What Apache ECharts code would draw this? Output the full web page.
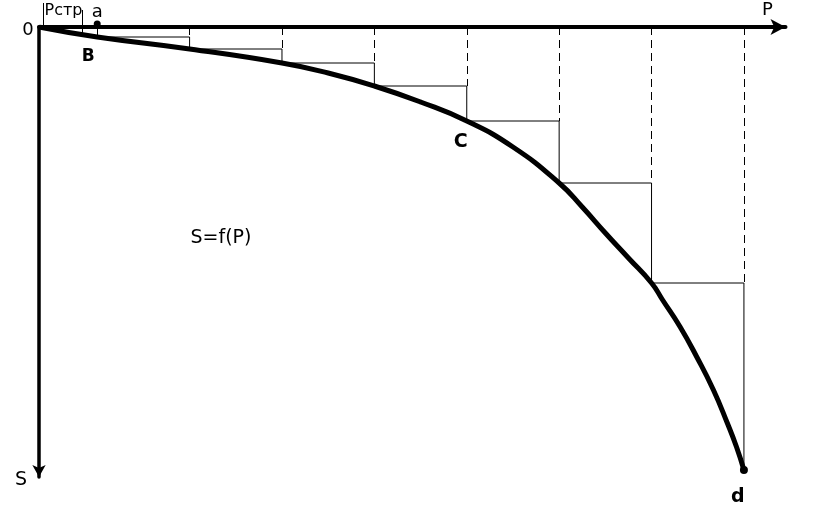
<!DOCTYPE html>
<html><head><meta charset="utf-8">
<script src="https://cdn.jsdelivr.net/npm/echarts@6/dist/echarts.min.js"></script>
<style>html,body{margin:0;padding:0;background:#fff}#c{width:813px;height:518px}</style>
</head><body><div id="c"></div>
<script>
// Load steps P (one load step = 1 unit) and settlement S at each step
const loadP = [0, 0.63, 1.63, 2.63, 3.63, 4.63, 5.63, 6.63, 7.63];
const settleS = [0, 1.0, 2.2, 3.6, 5.9, 9.4, 15.6, 25.6, 44.3];
// S = f(P) curve
const curveP = [0, 0.63, 1.63, 2.63, 3.13, 3.63, 4.13, 4.63, 5.13, 5.63, 5.88, 6.13, 6.38, 6.63,
  6.75, 6.94, 7.12, 7.30, 7.45, 7.55, 7.63];
const curveS = [0, 1.0, 2.2, 3.6, 4.6, 5.9, 7.5, 9.4, 12.0, 15.6, 18.0, 20.6, 23.1, 25.6,
  27.3, 30.0, 33.0, 36.3, 39.6, 42.0, 44.3];
const pStr = 0.465;          // Pстр
const pStrStart = 0.043;     // left mark of Pстр bracket
const xMax = 8.08;
const yMax = 45;

const FONT = 'DejaVu Sans';
const stepPts = loadP.map((p, i) => [p, settleS[i]]);
const curve = curveP.map((p, i) => [p, curveS[i]]);
const steps = stepPts.slice(1);

const dashed = [];
for (let i = 2; i < loadP.length; i++) {
  dashed.push([{coord: [loadP[i], 0]}, {coord: [loadP[i], settleS[i - 1]]}]);
}
const solidA = [[{coord: [loadP[1], 0]}, {coord: [loadP[1], settleS[1]]}]];

const chart = echarts.init(document.getElementById('c'), null, {renderer: 'canvas'});
const axisCommon = {
  axisTick: {show: false}, axisLabel: {show: false}, splitLine: {show: false}
};
chart.setOption({
  animation: false,
  backgroundColor: '#fff',
  grid: {left: 39, right: 27.5, top: 27, bottom: 41},
  xAxis: Object.assign({
    type: 'value', min: 0, max: xMax, position: 'top',
    axisLine: {show: true, onZero: true, symbol: ['none', 'arrow'], symbolSize: [12, 15],
      lineStyle: {color: '#000', width: 4}}
  }, axisCommon),
  yAxis: Object.assign({
    type: 'value', min: 0, max: yMax, inverse: true,
    axisLine: {show: true, onZero: true, symbol: ['arrow', 'none'], symbolSize: [10, 12],
      lineStyle: {color: '#000', width: 3.5}}
  }, axisCommon),
  series: [
    {
      type: 'line', data: steps, step: 'end', symbol: 'none', silent: true, z: 2,
      lineStyle: {color: '#000', width: 1},
      markLine: {
        silent: true, symbol: ['none', 'none'], label: {show: false},
        lineStyle: {color: '#000', width: 1, type: [8, 5]},
        data: dashed
      }
    },
    {
      type: 'line', data: [], symbol: 'none', silent: true,
      markLine: {
        silent: true, symbol: ['none', 'none'], label: {show: false},
        lineStyle: {color: '#000', width: 1, type: 'solid'},
        data: solidA
      }
    },
    {
      type: 'line', data: curve, smooth: 0.5, symbol: 'none', silent: true, z: 5,
      lineStyle: {color: '#000', width: 5}
    },
    {
      type: 'scatter', data: [stepPts[stepPts.length - 1]], symbol: 'circle', symbolSize: 8, z: 6,
      itemStyle: {color: '#000', opacity: 1}, silent: true
    },
    {
      type: 'scatter', data: [[loadP[1], 0]], symbol: 'circle', symbolSize: 7, symbolOffset: [0, -3], z: 6,
      itemStyle: {color: '#000', opacity: 1}, silent: true
    }
  ]
});

const px = (p, s) => chart.convertToPixel({gridIndex: 0}, [p, s]);
function txt(text, pt, dx, dy, size, bold) {
  return {type: 'text', x: pt[0] + dx, y: pt[1] + dy, z: 10, silent: true,
    style: {text: text, fill: '#000', font: (bold ? 'bold ' : '') + size + 'px "' + FONT + '"',
      textAlign: 'center', textVerticalAlign: 'middle'}};
}
function vline(p, s1, s2) {
  const a = px(p, s1), b = px(p, s2);
  const x = Math.round(a[0]) + 0.5;
  return {type: 'line', z: 10, silent: true, shape: {x1: x, y1: a[1], x2: x, y2: b[1]},
    style: {stroke: '#000', lineWidth: 1}};
}
const origin = px(0, 0);
const pA = px(loadP[1], 0);
const pB = px(loadP[1], settleS[1]);
const pC = px(loadP[5], settleS[5]);
const pD = px(loadP[8], settleS[8]);
const xEnd = px(xMax, 0);
const yEnd = px(0, yMax);
const strL = px(pStrStart, 0), strR = px(pStr, 0);
const fPos = px(1.97, 21.1);

chart.setOption({
  graphic: [
    vline(pStrStart, -2.4, 0),
    vline(pStr, -1.7, 0.6),
    txt('0', origin, -11, 3, 18, false),
    txt('Рстр', [(strL[0] + strR[0]) / 2, strL[1]], 1, -16, 16, false),
    txt('a', pA, 0, -15, 18, false),
    txt('P', xEnd, -18, -17, 18, false),
    txt('S', yEnd, -18, 3, 19, false),
    txt('S=f(P)', fPos, 0, 0, 19, false),
    txt('B', pB, -9, 20, 17, true),
    txt('C', pC, -6, 21, 19, true),
    txt('d', pD, -6, 27, 19, true)
  ]
});
</script></body></html>
